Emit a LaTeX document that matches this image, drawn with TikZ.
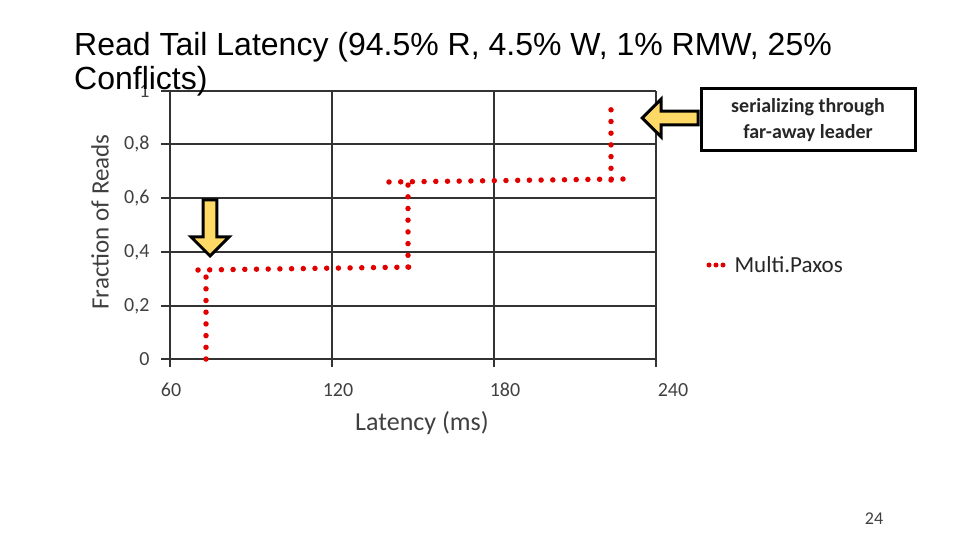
\documentclass[tikz,border=0pt]{standalone}
\usepackage{fontspec}
\setmainfont{Carlito}
\newfontfamily\arialf{Liberation Sans}
\usetikzlibrary{shapes.arrows}
\definecolor{gridc}{HTML}{333333}
\definecolor{tickc}{HTML}{404040}
\definecolor{ser}{HTML}{E00000}
\definecolor{arrf}{HTML}{FFD966}
\tikzset{gridl/.style={draw=gridc,line width=2.2pt},
 serl/.style={draw=ser,line width=5.5pt,line cap=round,dash pattern=on 0pt off 11.7pt},
 tick/.style={text=tickc,font=\fontsize{20}{20}\selectfont},
 blockarr/.style={single arrow,draw=black,line width=3pt,fill=arrf,minimum height=56pt,minimum width=38pt,single arrow head extend=8pt,inner sep=3pt}}
\begin{document}
\begin{tikzpicture}[x=1pt,y=-1pt]
\useasboundingbox (0,0) rectangle (960,540);
% grid
\foreach \y in {91,144,198,252,306,359}{\draw[gridl] (161,\y) -- (656,\y);}
\foreach \x in {170,332,494,656}{\draw[gridl] (\x,91) -- (\x,367);}
% tick labels
\foreach \y/\t in {91/1,144/{0,8},198/{0,6},252/{0,4},306/{0,2},359/0}{\node[tick,anchor=east] (yl\t) at (153,\y) {\t};}
\foreach \x/\t in {171/60,338/120,505/180,673/240}{\node[tick,anchor=base] (xl\t) at (\x,396) {\t};}
\node[rotate=90,text=tickc,font=\fontsize{25}{25}\selectfont] (ylab) at (100,222) {Fraction of Reads};
\node[text=tickc,font=\fontsize{26}{26}\selectfont] (xlab) at (422,423) {Latency (ms)};
% title
\node[anchor=north west,align=left,inner sep=0pt,font=\arialf\fontsize{32}{34}\selectfont] (title) at (74,32) {Read Tail Latency (94.5\% R, 4.5\% W, 1\% RMW, 25\%\\Conflicts)};
% series
\coordinate (p0) at (206,359);
\coordinate (p1) at (206,272);
\coordinate (p1b) at (198,270);
\coordinate (p2) at (408,267);
\coordinate (p2b) at (416,267);
\coordinate (p3) at (408,182);
\coordinate (p3b) at (389,182);
\coordinate (p4) at (611,180);
\coordinate (p4b) at (623,179);
\coordinate (p5) at (611,99);
\draw[serl] (p0) -- (p1) (p1b) -- (p2b) (p2) -- (p3) (p3b) -- (p4b) (p4) -- (p5);
% legend
\coordinate (lg1) at (709,265);
\coordinate (lg2) at (723,265);
\draw[draw=ser,line width=5pt,line cap=round,dash pattern=on 0pt off 7pt] (lg1) -- (lg2);
\node[anchor=west,font=\fontsize{23}{23}\selectfont,text=black!85] (leg) at (731,265) {Multi.Paxos};
% callout
\node[draw=black,line width=3pt,fill=white,align=center,font=\bfseries\fontsize{20}{26}\selectfont,minimum width=214pt,minimum height=62pt,text=black!85] (call) at (808,120) {serializing through\\far-away leader};
\node[blockarr,shape border rotate=180,anchor=tip] (la) at (640,118) {};
\node[blockarr,shape border rotate=270,anchor=tip] (da) at (210,258) {};
% page number
\node[text=tickc,font=\fontsize{18}{18}\selectfont] (pg) at (874,519) {24};
\end{tikzpicture}
\end{document}
